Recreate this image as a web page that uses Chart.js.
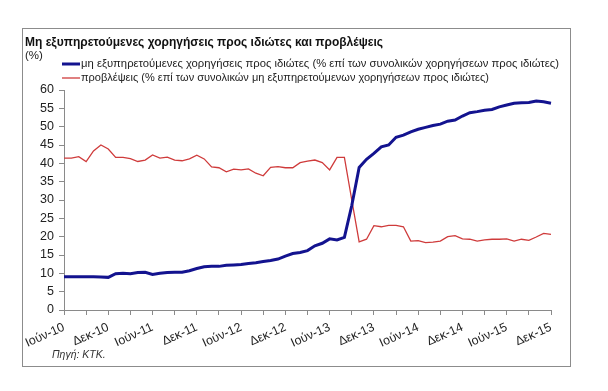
<!DOCTYPE html>
<html>
<head>
<meta charset="utf-8">
<script src="https://cdn.jsdelivr.net/npm/chart.js@4"></script>
<style>
  html, body { margin: 0; padding: 0; background: #fff; }
  #wrap { width: 608px; height: 391px; }
</style>
</head>
<body>
<div id="wrap"><canvas id="npl"></canvas></div>
<script>
// Μήνες (ετικέτες κατηγοριών), Ιούν-10 έως Δεκ-15
const monthNames = ['Ιαν', 'Φεβ', 'Μαρ', 'Απρ', 'Μάι', 'Ιούν', 'Ιούλ', 'Αύγ', 'Σεπ', 'Οκτ', 'Νοε', 'Δεκ'];
const startYear = 2010, startMonth = 5, nMonths = 67;

// μη εξυπηρετούμενες χορηγήσεις (% επί των συνολικών χορηγήσεων)
const nplRatio = [
  9.1, 9.1, 9.1, 9.1, 9.1, 9.0, 8.9, 9.9, 10.0, 9.9, 10.2, 10.3,
  9.7, 10.0, 10.2, 10.3, 10.3, 10.7, 11.3, 11.8, 11.9, 11.9, 12.2, 12.3,
  12.4, 12.7, 12.9, 13.2, 13.5, 13.9, 14.7, 15.4, 15.7, 16.2, 17.5, 18.2,
  19.4, 19.1, 19.8, 28.5, 38.9, 41.1, 42.7, 44.5, 45.0, 47.1, 47.7, 48.6,
  49.3, 49.8, 50.3, 50.7, 51.5, 51.8, 52.9, 53.8, 54.1, 54.5, 54.7, 55.4,
  55.9, 56.4, 56.5, 56.6, 57.0, 56.8, 56.4
];

// προβλέψεις (% επί των μη εξυπηρετούμενων χορηγήσεων)
const provisions = [
  41.4, 41.4, 41.8, 40.5, 43.4, 45.0, 43.9, 41.6, 41.6, 41.3, 40.5, 40.9,
  42.3, 41.4, 41.7, 40.9, 40.7, 41.2, 42.2, 41.2, 39.0, 38.8, 37.7, 38.4,
  38.2, 38.5, 37.3, 36.6, 38.9, 39.1, 38.8, 38.8, 40.2, 40.6, 40.9, 40.2,
  38.2, 41.6, 41.6, 30.0, 18.6, 19.3, 23.0, 22.7, 23.1, 23.1, 22.7, 18.8,
  18.9, 18.4, 18.5, 18.8, 20.0, 20.3, 19.4, 19.3, 18.8, 19.1, 19.3, 19.3,
  19.4, 18.8, 19.3, 19.0, 19.9, 20.9, 20.6
];

const yTicks = { min: 0, max: 60, step: 5 };

const titleText = 'Μη εξυπηρετούμενες χορηγήσεις προς ιδιώτες και προβλέψεις';
const unitText = '(%)';
const seriesNames = [
  'μη εξυπηρετούμενες χορηγήσεις προς ιδιώτες (% επί των συνολικών χορηγήσεων προς ιδιώτες)',
  'προβλέψεις (% επί των συνολικών μη εξυπηρετούμενων χορηγήσεων προς ιδιώτες)'
];
const sourceText = 'Πηγή: ΚΤΚ.';

const labels = [];
for (let i = 0; i < nMonths; i++) {
  const m = (startMonth + i) % 12;
  const y = startYear + Math.floor((startMonth + i) / 12);
  labels.push(monthNames[m] + '-' + String(y).slice(2));
}

const BLUE = '#13138f';
const RED = '#cf3b3b';
const AXIS = '#8a8a8a';
const FONT = "'Liberation Sans', Arial, sans-serif";

// κείμενα, υπόμνημα και πλαίσιο
const decorPlugin = {
  id: 'decor',
  beforeDraw(chart) {
    const c = chart.ctx;
    c.save();
    c.fillStyle = '#fff';
    c.fillRect(0, 0, chart.width, chart.height);
    c.restore();
  },
  afterDraw(chart) {
    const c = chart.ctx;
    c.save();
    c.strokeStyle = '#8c8c8c';
    c.lineWidth = 1;
    c.strokeRect(22.5, 28.5, 548, 338);

    c.fillStyle = '#111';
    c.textBaseline = 'middle';
    c.font = 'bold 13px ' + FONT;
    c.fillText(titleText, 25, 42, 358);

    c.font = '11.5px ' + FONT;
    c.fillStyle = '#222';
    c.fillText(unitText, 25, 56);

    const legendColors = [BLUE, RED];
    const legendWidths = [3, 1.3];
    seriesNames.forEach((name, k) => {
      const y = 64 + k * 14;
      c.strokeStyle = legendColors[k];
      c.lineWidth = legendWidths[k];
      c.beginPath();
      c.moveTo(62, y);
      c.lineTo(80, y);
      c.stroke();
      c.fillStyle = '#222';
      c.fillText(name, 81, y, 478 - k * 70);
    });

    c.font = 'italic 10.5px ' + FONT;
    c.fillStyle = '#333';
    c.fillText(sourceText, 52, 355);
    c.restore();
  }
};

const ctx = document.getElementById('npl').getContext('2d');
new Chart(ctx, {
  type: 'line',
  data: {
    labels: labels,
    datasets: [{
      label: seriesNames[0],
      data: nplRatio,
      borderColor: BLUE,
      borderWidth: 3,
      pointRadius: 0,
      tension: 0,
      fill: false
    }, {
      label: seriesNames[1],
      data: provisions,
      borderColor: RED,
      borderWidth: 1.3,
      pointRadius: 0,
      tension: 0,
      fill: false
    }]
  },
  options: {
    responsive: true,
    maintainAspectRatio: false,
    animation: false,
    layout: { padding: { left: 22, right: 57, top: 90, bottom: 0 } },
    plugins: {
      legend: { display: false },
      title: { display: false },
      tooltip: { enabled: false }
    },
    scales: {
      x: {
        offset: false,
        border: { color: AXIS, width: 1 },
        grid: {
          drawOnChartArea: false,
          tickLength: 5,
          color: (c) => (c.index % 3 === 0 ? AXIS : 'rgba(0,0,0,0)')
        },
        ticks: {
          autoSkip: false,
          minRotation: 24,
          maxRotation: 24,
          padding: 5,
          color: '#222',
          font: { size: 12.5, family: FONT },
          callback: function (val, index) {
            return index % 6 === 0 ? this.getLabelForValue(val) : '';
          }
        },
        afterFit: (scale) => { scale.height = 81; }
      },
      y: {
        min: yTicks.min,
        max: yTicks.max,
        border: { color: AXIS, width: 1 },
        grid: { drawOnChartArea: false, tickLength: 5, color: AXIS },
        ticks: {
          stepSize: yTicks.step,
          padding: 5,
          color: '#222',
          font: { size: 12.5, family: FONT }
        },
        afterFit: (scale) => { scale.width = 42; }
      }
    }
  },
  plugins: [decorPlugin]
});
</script>
</body>
</html>
